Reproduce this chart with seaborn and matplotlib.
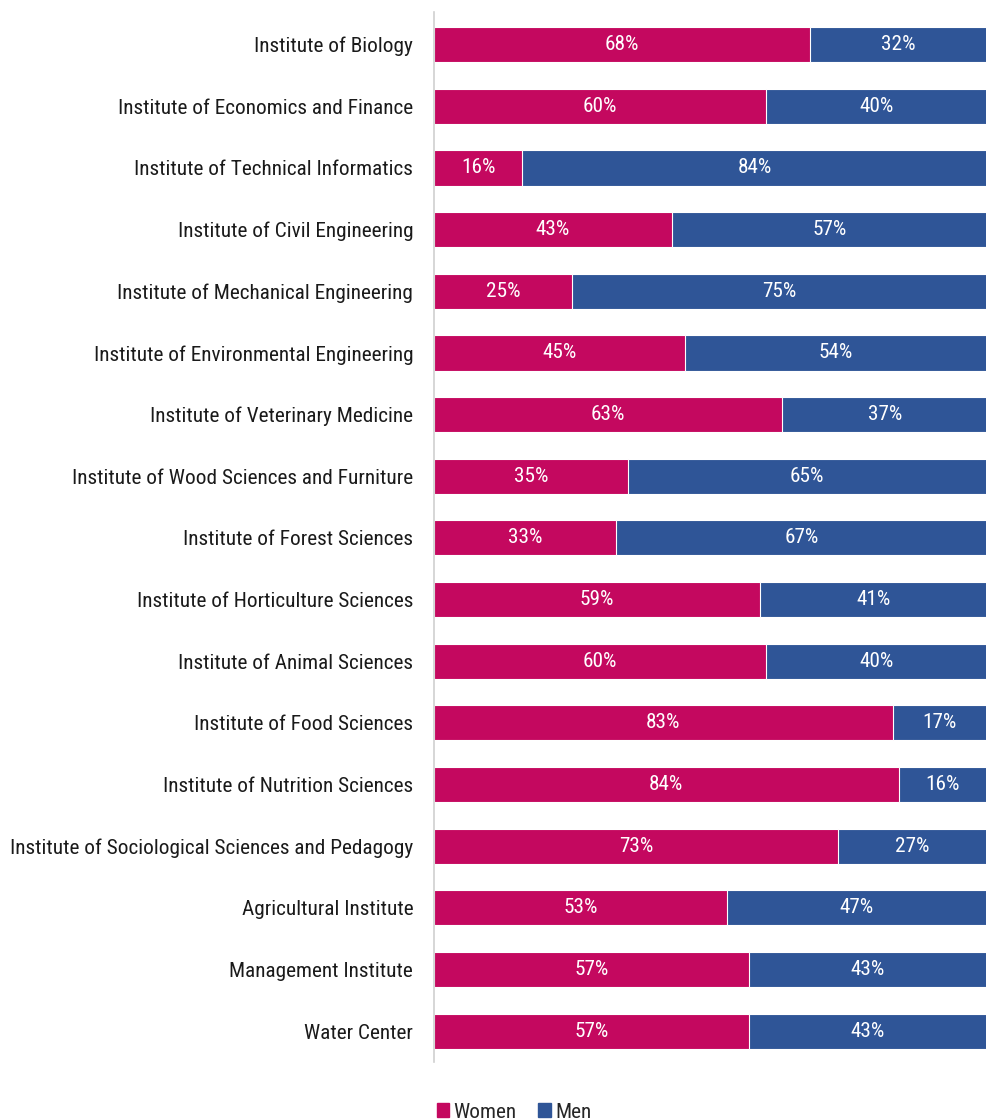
import matplotlib.pyplot as plt
import matplotlib.patches as mpatches
import seaborn as sns
import pandas as pd

institutes = [
    "Institute of Biology",
    "Institute of Economics and Finance",
    "Institute of Technical Informatics",
    "Institute of Civil Engineering",
    "Institute of Mechanical Engineering",
    "Institute of Environmental Engineering",
    "Institute of Veterinary Medicine",
    "Institute of Wood Sciences and Furniture",
    "Institute of Forest Sciences",
    "Institute of Horticulture Sciences",
    "Institute of Animal Sciences",
    "Institute of Food Sciences",
    "Institute of Nutrition Sciences",
    "Institute of Sociological Sciences and Pedagogy",
    "Agricultural Institute",
    "Management Institute",
    "Water Center",
]
women = [68, 60, 16, 43, 25, 45, 63, 35, 33, 59, 60, 83, 84, 73, 53, 57, 57]
men = [32, 40, 84, 57, 75, 54, 37, 65, 67, 41, 40, 17, 16, 27, 47, 43, 43]

c_women = "#C4085F"
c_men = "#2F5597"

sns.set_style("white")
plt.rcParams["font.family"] = ["Liberation Sans Narrow", "Roboto Condensed",
                               "Archivo Narrow", "DejaVu Sans"]

df = pd.DataFrame({"institute": institutes, "women": women, "men": men})
df["total"] = 100.0
df["women_share"] = df["women"] / (df["women"] + df["men"]) * 100

fig = plt.figure(figsize=(9.87, 11.2), dpi=100, facecolor="white")
ax = fig.add_axes([434 / 987, 1 - 1062 / 1120, 553 / 987, 1050 / 1120])

sns.barplot(data=df, y="institute", x="total", color=c_men, orient="h",
            width=0.57, saturation=1, edgecolor="white", linewidth=0.8, ax=ax)
sns.barplot(data=df, y="institute", x="women_share", color=c_women, orient="h",
            width=0.57, saturation=1, edgecolor="white", linewidth=0.8, ax=ax)

fs = 15.3
for i, row in df.iterrows():
    ws = row["women_share"]
    ax.text(ws / 2, i, f"{row['women']}%", ha="center", va="center",
            color="white", fontsize=fs)
    ax.text(ws + (100 - ws) / 2, i, f"{row['men']}%", ha="center", va="center",
            color="white", fontsize=fs)

ax.set_xlim(0, 100)
ax.set_ylim(16.5, -0.53)
ax.set_xlabel("")
ax.set_ylabel("")
ax.set_xticks([])
ax.tick_params(axis="y", length=0, pad=15, labelsize=fs, labelcolor="#1a1a1a")
for s in ["top", "right", "bottom"]:
    ax.spines[s].set_visible(False)
ax.spines["left"].set_color("#d0d0d0")
ax.spines["left"].set_linewidth(1.2)

handles = [mpatches.Patch(color=c_women, label="Women"),
           mpatches.Patch(color=c_men, label="Men")]
fig.legend(handles=handles, loc="center", bbox_to_anchor=(514 / 987, 1 - 1112 / 1120),
           ncol=2, frameon=False, fontsize=fs, handlelength=0.6, handleheight=0.6,
           handletextpad=0.2, columnspacing=1.0)

fig.savefig("out.png", dpi=100, facecolor="white")
